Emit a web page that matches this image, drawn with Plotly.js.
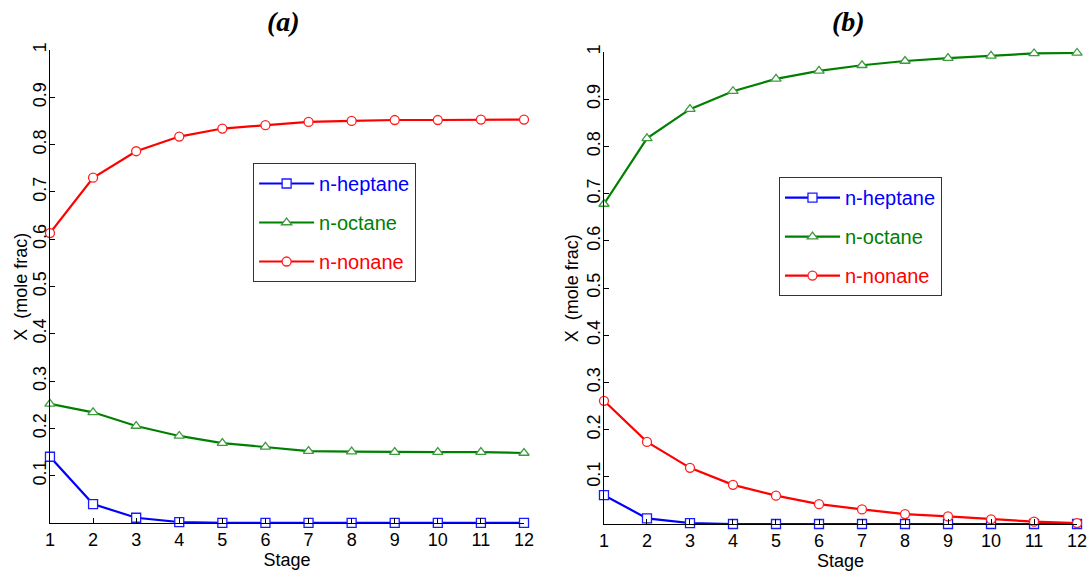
<!DOCTYPE html>
<html>
<head>
<meta charset="utf-8">
<script src="https://cdn.plot.ly/plotly-3.0.1.min.js"></script>
<style>
  html, body { margin: 0; padding: 0; background: #fff; }
  #chart { width: 1091px; height: 573px; }
</style>
</head>
<body>
<div id="chart"></div>
<script>
// Stage numbers along the column
const stages = [1, 2, 3, 4, 5, 6, 7, 8, 9, 10, 11, 12];

// Panel (a): liquid mole fractions per stage
const heptaneA = [0.140, 0.040, 0.011, 0.002, 0.000, 0.000, 0.000, 0.000, 0.000, 0.000, 0.000, 0.000];
const octaneA  = [0.252, 0.234, 0.205, 0.184, 0.169, 0.161, 0.152, 0.151, 0.150, 0.150, 0.150, 0.148];
const nonaneA  = [0.613, 0.730, 0.786, 0.817, 0.834, 0.841, 0.848, 0.850, 0.852, 0.852, 0.853, 0.853];

// Panel (b): liquid mole fractions per stage
const heptaneB = [0.061, 0.012, 0.002, 0.000, 0.000, 0.000, 0.000, 0.000, 0.000, 0.000, 0.000, 0.000];
const octaneB  = [0.678, 0.817, 0.879, 0.917, 0.943, 0.960, 0.972, 0.981, 0.987, 0.992, 0.997, 0.998];
const nonaneB  = [0.261, 0.174, 0.119, 0.083, 0.060, 0.042, 0.031, 0.021, 0.016, 0.010, 0.005, 0.002];

const seriesNames = ['n-heptane', 'n-octane', 'n-nonane'];
const yTicks = [0.1, 0.2, 0.3, 0.4, 0.5, 0.6, 0.7, 0.8, 0.9, 1];
const yTickText = ['0.1', '0.2', '0.3', '0.4', '0.5', '0.6', '0.7', '0.8', '0.9', '1'];
const yTitle = 'X  (mole frac)';
const xTitle = 'Stage';

const styles = [
  { color: '#0000ff', edge: '#1a1aff', symbol: 'square', size: 9 },
  { color: '#008000', edge: '#3d9a3d', symbol: 'triangle-up', size: 9 },
  { color: '#ff0000', edge: '#ff2020', symbol: 'circle', size: 9 }
];

function series(x, y, idx, xa, ya, legend) {
  const s = styles[idx];
  return {
    x: x, y: y, xaxis: xa, yaxis: ya,
    type: 'scatter', mode: 'lines+markers', cliponaxis: false,
    name: '<span style="color:' + s.color + '">' + seriesNames[idx] + '</span>',
    legend: legend,
    legendgroup: legend + idx,
    line: { color: s.color, width: 2.2 },
    marker: { symbol: s.symbol, size: s.size, color: '#ffffff',
              line: { color: s.edge, width: 1.3 } }
  };
}

const data = [
  series(stages, heptaneA, 0, 'x', 'y', 'legend'),
  series(stages, octaneA, 1, 'x', 'y', 'legend'),
  series(stages, nonaneA, 2, 'x', 'y', 'legend'),
  series(stages, heptaneB, 0, 'x2', 'y2', 'legend2'),
  series(stages, octaneB, 1, 'x2', 'y2', 'legend2'),
  series(stages, nonaneB, 2, 'x2', 'y2', 'legend2')
];

const tickFont = { family: 'Arial, "Liberation Sans", sans-serif', size: 18, color: '#000' };

function xAxis(domain, anchor) {
  return {
    domain: domain, anchor: anchor, range: [1, 12],
    tickvals: stages, ticktext: stages.map(String),
    ticks: 'inside', ticklen: 5, tickcolor: '#000',
    showline: true, linecolor: '#000', linewidth: 1,
    showgrid: false, zeroline: false,
    tickfont: tickFont,
    title: { text: xTitle, font: tickFont, standoff: 2 },
    automargin: false
  };
}

function yAxis(domain, anchor) {
  return {
    domain: domain, anchor: anchor, range: [0, 1],
    tickvals: yTicks, ticktext: yTickText, tickangle: -90,
    ticks: 'inside', ticklen: 5, tickcolor: '#000', ticklabelstandoff: -4,
    showline: true, linecolor: '#000', linewidth: 1,
    showgrid: false, zeroline: false,
    tickfont: tickFont,
    automargin: false
  };
}

const legendBase = {
  bgcolor: '#ffffff', bordercolor: '#333', borderwidth: 1,
  font: { family: 'Arial, "Liberation Sans", sans-serif', size: 20 },
  itemwidth: 55, tracegroupgap: 10,
  xanchor: 'left', yanchor: 'top', xref: 'paper', yref: 'paper'
};

const panelFont = { family: '"Liberation Serif", "Times New Roman", serif', size: 28, color: '#000' };

const layout = {
  width: 1091, height: 573,
  margin: { l: 0, r: 0, t: 0, b: 0 },
  paper_bgcolor: '#ffffff', plot_bgcolor: 'rgba(0,0,0,0)',
  xaxis: xAxis([0.0458, 0.4803], 'y'),
  yaxis: yAxis([0.0873, 0.9127], 'x'),
  xaxis2: xAxis([0.5536, 0.9872], 'y2'),
  yaxis2: yAxis([0.0855, 0.9092], 'x2'),
  legend: Object.assign({}, legendBase, { x: 0.232, y: 0.7155 }),
  legend2: Object.assign({}, legendBase, { x: 0.714, y: 0.691 }),
  annotations: [
    { text: '<b><i>(a)</i></b>', xref: 'paper', yref: 'paper', x: 0.2594, y: 0.962,
      xanchor: 'center', yanchor: 'middle', showarrow: false, font: panelFont },
    { text: '<b><i>(b)</i></b>', xref: 'paper', yref: 'paper', x: 0.7773, y: 0.962,
      xanchor: 'center', yanchor: 'middle', showarrow: false, font: panelFont },
    // y-axis titles set close to the rotated tick labels
    { text: yTitle, xref: 'paper', yref: 'paper', x: 0.0185, y: 0.5,
      xanchor: 'center', yanchor: 'middle', textangle: -90, showarrow: false, font: tickFont },
    { text: yTitle, xref: 'paper', yref: 'paper', x: 0.5243, y: 0.497,
      xanchor: 'center', yanchor: 'middle', textangle: -90, showarrow: false, font: tickFont }
  ]
};

Plotly.newPlot('chart', data, layout, { displayModeBar: false, staticPlot: true });
</script>
</body>
</html>
